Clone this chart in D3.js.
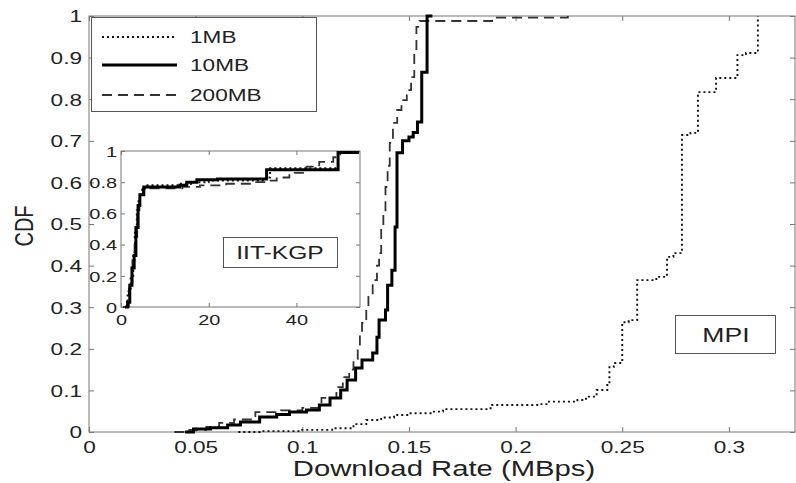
<!DOCTYPE html>
<html>
<head>
<meta charset="utf-8">
<script src="https://cdn.jsdelivr.net/npm/d3@7"></script>
<style>
  html, body { margin: 0; padding: 0; background: #fff; }
  text { font-family: "Liberation Sans", Arial, Helvetica, sans-serif; fill: #222; }
</style>
</head>
<body>
<svg id="chart" width="796" height="483"></svg>
<script>
// ---- data -------------------------------------------------------------
const seriesNames = ["1MB", "10MB", "200MB"];

// tick values
const xTicks = [0, 0.05, 0.1, 0.15, 0.2, 0.25, 0.3];
const yTicks = [0, 0.1, 0.2, 0.3, 0.4, 0.5, 0.6, 0.7, 0.8, 0.9, 1];
const insetXTicks = [0, 20, 40];
const insetYTicks = [0, 0.2, 0.4, 0.6, 0.8, 1];

// MPI: [download rate (MBps), CDF]
const mpi1MB = [
  [0.070, 0.000], [0.080, 0.002], [0.099, 0.005], [0.114, 0.009], [0.124, 0.019],
  [0.130, 0.029], [0.137, 0.035], [0.143, 0.041], [0.150, 0.045], [0.161, 0.049],
  [0.166, 0.055], [0.187, 0.057], [0.189, 0.065], [0.211, 0.067], [0.215, 0.073],
  [0.229, 0.077], [0.233, 0.085], [0.238, 0.101], [0.243, 0.113], [0.244, 0.156],
  [0.246, 0.166], [0.250, 0.264], [0.253, 0.269], [0.257, 0.365], [0.266, 0.373],
  [0.271, 0.421], [0.274, 0.430], [0.278, 0.714], [0.282, 0.719], [0.2855, 0.817],
  [0.294, 0.851], [0.304, 0.906], [0.308, 0.911], [0.3136, 1.000]
];
const mpi10MB = [
  [0.045, 0.000], [0.049, 0.007], [0.057, 0.010], [0.065, 0.017], [0.071, 0.024],
  [0.080, 0.036], [0.088, 0.042], [0.094, 0.048], [0.102, 0.053], [0.108, 0.065],
  [0.113, 0.082], [0.118, 0.101], [0.121, 0.125], [0.125, 0.154], [0.128, 0.173],
  [0.133, 0.190], [0.135, 0.228], [0.136, 0.269], [0.139, 0.293], [0.140, 0.353],
  [0.142, 0.389], [0.1435, 0.493], [0.1444, 0.671], [0.147, 0.700], [0.150, 0.709],
  [0.152, 0.720], [0.154, 0.745], [0.156, 0.865], [0.1585, 1.000], [0.161, 1.000]
];
const mpi200MB = [
  [0.040, 0.000], [0.047, 0.005], [0.055, 0.012], [0.061, 0.022], [0.068, 0.030],
  [0.078, 0.048], [0.090, 0.052], [0.100, 0.058], [0.109, 0.082], [0.116, 0.108],
  [0.119, 0.132], [0.122, 0.150], [0.124, 0.175], [0.126, 0.205], [0.127, 0.240],
  [0.128, 0.262], [0.130, 0.300], [0.131, 0.325], [0.133, 0.365], [0.135, 0.400],
  [0.136, 0.430], [0.137, 0.486], [0.138, 0.530], [0.139, 0.589], [0.140, 0.640],
  [0.141, 0.695], [0.1425, 0.743], [0.1445, 0.774], [0.1465, 0.798], [0.149, 0.822],
  [0.151, 0.853], [0.1525, 0.910], [0.1535, 0.974], [0.155, 0.988], [0.189, 0.996],
  [0.2245, 1.000]
];

// IIT-KGP: [download rate (MBps), CDF]
const kgp1MB = [
  [0.5, 0.00], [1.5, 0.10], [2.2, 0.20], [2.8, 0.35], [3.2, 0.50], [3.6, 0.62],
  [4.0, 0.70], [4.8, 0.76], [5.5, 0.78], [13.0, 0.79], [16.0, 0.80], [20.0, 0.81],
  [33.0, 0.83], [34.0, 0.89], [49.5, 0.99], [54.0, 1.00]
];
const kgp10MB = [
  [0.9, 0.00], [1.5, 0.03], [2.0, 0.14], [2.5, 0.25], [3.0, 0.33], [3.4, 0.51],
  [3.9, 0.65], [4.3, 0.72], [5.2, 0.77], [13.4, 0.78], [15.0, 0.80], [17.3, 0.815],
  [22.0, 0.82], [33.2, 0.88], [49.5, 0.99], [54.3, 0.99]
];
const kgp200MB = [
  [0.7, 0.00], [1.8, 0.12], [2.6, 0.30], [3.1, 0.45], [3.7, 0.62], [4.2, 0.72],
  [5.0, 0.76], [14.0, 0.77], [18.0, 0.78], [24.0, 0.79], [30.0, 0.80], [33.0, 0.81],
  [35.5, 0.83], [38.4, 0.86], [42.3, 0.90], [45.2, 0.93], [48.4, 0.96], [50.0, 0.99],
  [54.0, 1.00]
];

// ---- drawing ----------------------------------------------------------
const svg = d3.select("#chart");
const SX = 1.33;                       // horizontal text stretch
const frameColor = "#777";

const styles = {
  "1MB":   { width: 1.9, dash: "2,3",  color: "#111" },
  "10MB":  { width: 3,   dash: null,   color: "#000" },
  "200MB": { width: 1.8, dash: "10,6", color: "#333" }
};

function stretchedText(g, x, y, str, size, anchor) {
  return g.append("text")
    .attr("transform", `translate(${x},${y}) scale(${SX},1)`)
    .attr("text-anchor", anchor || "start")
    .style("font-size", size + "px")
    .text(str);
}

// draws a boxed axes area with inward ticks on all four sides
function drawAxes(g, x, y, xt, yt, fontSize, yLabelGap, xLabelGap, tick) {
  const [x0, x1] = x.range();
  const [y0, y1] = y.range();
  g.append("rect")
    .attr("x", x0).attr("y", y1).attr("width", x1 - x0).attr("height", y0 - y1)
    .attr("fill", "#fff").attr("stroke", frameColor).attr("stroke-width", 1);

  const mk = (axis, tr) => {
    const a = g.append("g").attr("transform", tr).call(axis);
    a.select(".domain").remove();
    a.selectAll("line").attr("stroke", frameColor);
    return a;
  };
  const fmt = d => String(d);
  const bottom = mk(d3.axisBottom(x).tickValues(xt).tickSizeInner(-tick).tickSizeOuter(0).tickFormat(fmt), `translate(0,${y0})`);
  bottom.selectAll("text")
    .attr("y", xLabelGap).attr("dy", "0.71em")
    .attr("transform", `scale(${SX},1)`)
    .style("font-size", fontSize + "px").style("fill", "#222");
  const left = mk(d3.axisLeft(y).tickValues(yt).tickSizeInner(-tick).tickSizeOuter(0).tickFormat(fmt), `translate(${x0},0)`);
  left.selectAll("text")
    .attr("x", -yLabelGap / SX).attr("dy", "0.35em")
    .attr("transform", `scale(${SX},1)`)
    .style("font-size", fontSize + "px").style("fill", "#222");
  mk(d3.axisTop(x).tickValues(xt).tickSizeInner(-tick).tickSizeOuter(0).tickFormat(""), `translate(0,${y1})`);
  mk(d3.axisRight(y).tickValues(yt).tickSizeInner(-tick).tickSizeOuter(0).tickFormat(""), `translate(${x1},0)`);
}

function drawSeries(g, x, y, data, name) {
  const s = styles[name];
  const line = d3.line().x(d => x(d[0])).y(d => y(d[1])).curve(d3.curveStepAfter);
  g.append("path")
    .datum(data)
    .attr("d", line)
    .attr("fill", "none")
    .attr("stroke", s.color)
    .attr("stroke-width", s.width)
    .attr("stroke-dasharray", s.dash)
    .attr("stroke-linejoin", "miter");
}

// main axes
const x = d3.scaleLinear().domain([0, 0.331]).range([89, 795]);
const y = d3.scaleLinear().domain([0, 1]).range([432, 16]);
const main = svg.append("g");
drawAxes(main, x, y, xTicks, yTicks, 17, 7, 9, 5);

const mpiData = { "1MB": mpi1MB, "10MB": mpi10MB, "200MB": mpi200MB };
["1MB", "200MB", "10MB"].forEach(n => drawSeries(main, x, y, mpiData[n], n));

// axis titles
svg.append("text")
  .attr("transform", `translate(444,476) scale(${SX},1)`)
  .attr("text-anchor", "middle")
  .style("font-size", "22px")
  .text("Download Rate (MBps)");
svg.append("text")
  .attr("transform", `translate(33,226) rotate(-90) scale(1,${SX})`)
  .attr("text-anchor", "middle")
  .style("font-size", "20px")
  .text("CDF");

// MPI tag
svg.append("rect").attr("x", 675.5).attr("y", 315.5).attr("width", 100).attr("height", 38)
  .attr("fill", "#fff").attr("stroke", "#555").attr("stroke-width", 1);
stretchedText(svg, 726, 342, "MPI", 20, "middle");

// legend
const leg = svg.append("g");
leg.append("rect").attr("x", 91.5).attr("y", 17.5).attr("width", 225).attr("height", 94)
  .attr("fill", "#fff").attr("stroke", "#555").attr("stroke-width", 1);
const legY = { "1MB": 37, "10MB": 65, "200MB": 95 };
seriesNames.forEach(n => {
  const s = styles[n];
  leg.append("line")
    .attr("x1", 102).attr("x2", 177).attr("y1", legY[n]).attr("y2", legY[n])
    .attr("stroke", s.color).attr("stroke-width", s.width)
    .attr("stroke-dasharray", s.dash);
  stretchedText(leg, 190, legY[n] + 6, n, 17, "start");
});

// IIT-KGP inset
const xi = d3.scaleLinear().domain([0, 54.5]).range([121, 360]);
const yi = d3.scaleLinear().domain([0, 1]).range([307, 151]);
const inset = svg.append("g");
drawAxes(inset, xi, yi, insetXTicks, insetYTicks, 15, 4, 7, 4);
const kgpData = { "1MB": kgp1MB, "10MB": kgp10MB, "200MB": kgp200MB };
["1MB", "200MB", "10MB"].forEach(n => drawSeries(inset, xi, yi, kgpData[n], n));

inset.append("rect").attr("x", 223.5).attr("y", 237.5).attr("width", 114).attr("height", 30)
  .attr("fill", "#fff").attr("stroke", "#555").attr("stroke-width", 1);
stretchedText(inset, 280, 259, "IIT-KGP", 18.5, "middle");
</script>
</body>
</html>
